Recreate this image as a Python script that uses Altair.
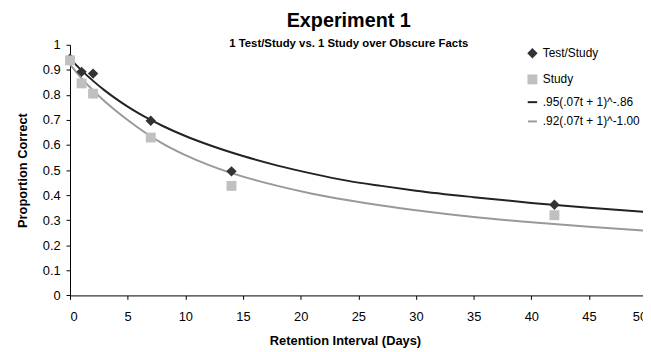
import altair as alt
import pandas as pd

# Observed data
obs_t = [0, 1, 2, 7, 14, 42]
test_study = [0.945, 0.892, 0.885, 0.697, 0.495, 0.362]
study = [0.938, 0.846, 0.805, 0.630, 0.437, 0.320]

# Fitted curves
curve_t = [0, 1, 2, 3, 4, 5, 6, 7, 8, 10, 12, 15, 18, 21, 24, 27, 30, 35, 40, 45, 50]
fit_test_study = [0.945, 0.898, 0.856, 0.818, 0.784, 0.753, 0.725, 0.700, 0.677, 0.636, 0.601,
                  0.556, 0.518, 0.486, 0.458, 0.437, 0.418, 0.392, 0.369, 0.350, 0.333]
fit_study = [0.922, 0.866, 0.818, 0.775, 0.736, 0.700, 0.666, 0.635, 0.607, 0.560, 0.521,
             0.474, 0.437, 0.406, 0.381, 0.359, 0.340, 0.313, 0.292, 0.274, 0.258]

series_names = ["Test/Study", "Study", ".95(.07t + 1)^-.86", ".92(.07t + 1)^-1.00"]
x_ticks = list(range(0, 55, 5))
y_ticks = [round(i * 0.1, 1) for i in range(11)]

rows = []
for t, v in zip(obs_t, test_study):
    rows.append({"t": t, "v": v, "series": series_names[0], "kind": "obs"})
for t, v in zip(obs_t, study):
    rows.append({"t": t, "v": v, "series": series_names[1], "kind": "obs"})
for t, v in zip(curve_t, fit_test_study):
    rows.append({"t": t, "v": v, "series": series_names[2], "kind": "fit"})
for t, v in zip(curve_t, fit_study):
    rows.append({"t": t, "v": v, "series": series_names[3], "kind": "fit"})
df = pd.DataFrame(rows)

FONT = "Liberation Sans"

x_enc = alt.X("t:Q", scale=alt.Scale(domain=[0, 50], nice=False),
              axis=alt.Axis(values=x_ticks, title="Retention Interval (Days)",
                            titleX=278, titleY=50, titleBaseline="alphabetic"))
y_enc = alt.Y("v:Q", scale=alt.Scale(domain=[0, 1], nice=False),
              axis=alt.Axis(values=y_ticks, format="~g", title="Proportion Correct",
                            titleX=-44, titleBaseline="alphabetic"))

shape_scale = alt.Scale(domain=series_names, range=["diamond", "square", "stroke", "stroke"])
fill_scale = alt.Scale(domain=series_names, range=["#333333", "#c0c0c0", "#222222", "#999999"])
stroke_scale = alt.Scale(domain=series_names, range=["transparent", "transparent", "#222222", "#999999"])
size_scale = alt.Scale(domain=series_names, range=[110, 81, 225, 225])

legend = alt.Legend(title=None, orient="none", legendX=461, legendY=2,
                    labelFontSize=12, labelFont=FONT, labelColor="#000000",
                    symbolStrokeWidth=2, rowPadding=7.5, labelOffset=4)

base = alt.Chart(df)

lines = base.transform_filter(alt.datum.kind == "fit").mark_line(
    strokeWidth=2, interpolate="monotone"
).encode(
    x=x_enc, y=y_enc,
    stroke=alt.Stroke("series:N", scale=stroke_scale, legend=legend),
)

points = base.transform_filter(alt.datum.kind == "obs").mark_point(
    filled=True, opacity=1, strokeWidth=0
).encode(
    x=x_enc, y=y_enc,
    shape=alt.Shape("series:N", scale=shape_scale, legend=legend),
    fill=alt.Fill("series:N", scale=fill_scale, legend=legend),
    stroke=alt.Stroke("series:N", scale=stroke_scale, legend=legend),
    size=alt.Size("series:N", scale=size_scale, legend=legend),
)

chart = alt.layer(lines, points).properties(
    width=583, height=253.4,
    autosize=alt.AutoSizeParams(type="none"),
    padding={"left": 62.7, "top": 35.3, "right": -3.7, "bottom": 55},
    title=alt.TitleParams(
        text="Experiment 1",
        subtitle="1 Test/Study vs. 1 Study over Obscure Facts",
        font=FONT, fontSize=20, fontWeight="bold", color="#000000",
        subtitleFont=FONT, subtitleFontSize=11.5, subtitleFontWeight="bold",
        subtitleColor="#000000", subtitlePadding=7,
        anchor="middle", dx=-9.7, offset=-11,
    ),
).configure_view(stroke=None).configure_axis(
    grid=False, domainColor="#000000", tickColor="#000000", tickSize=4,
    labelFont=FONT, labelFontSize=13, labelColor="#000000", labelPadding=6,
    titleFont=FONT, titleFontSize=13, titleFontWeight="bold", titleColor="#000000",
).configure_axisX(labelPadding=11)

chart.save("out.html", embed_options={"renderer": "svg", "actions": False})
